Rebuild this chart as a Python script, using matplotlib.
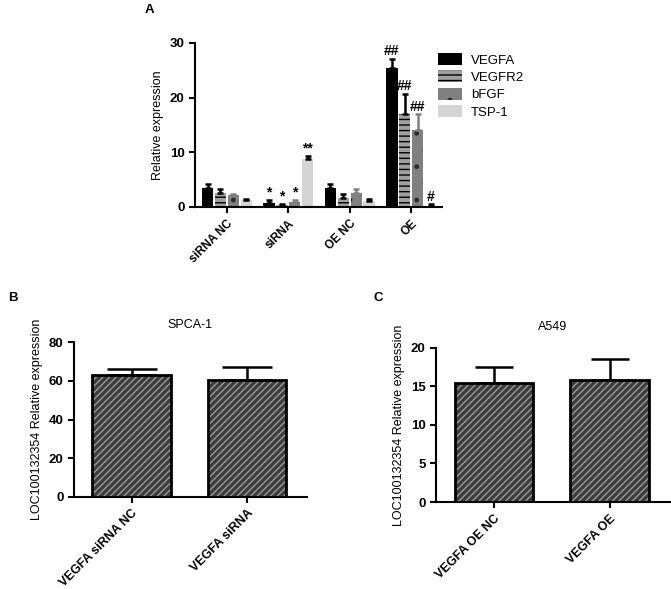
import numpy as np
import matplotlib
matplotlib.use("Agg")
import matplotlib.pyplot as plt
from matplotlib.patches import Patch

plt.rcParams['font.family'] = ['Liberation Sans', 'DejaVu Sans']
plt.rcParams['hatch.linewidth'] = 1.0

# Panel A data
groups = ['siRNA NC', 'siRNA', 'OE NC', 'OE']
genes = ['VEGFA', 'VEGFR2', 'bFGF', 'TSP-1']
vegfa = [3.5, 0.8, 3.5, 25.5]
vegfa_err = [0.7, 0.4, 0.7, 1.6]
vegfr2 = [2.6, 0.4, 1.6, 17.1]
vegfr2_err = [0.6, 0.2, 0.8, 3.6]
bfgf = [2.1, 1.0, 2.6, 14.1]
bfgf_err = [0.2, 0.3, 0.6, 2.9]
tsp1 = [1.2, 8.7, 1.1, 0.2]
tsp1_err = [0.3, 0.7, 0.3, 0.3]
marks_vegfa = ['', '*', '', '##']
marks_vegfr2 = ['', '*', '', '##']
marks_bfgf = ['', '*', '', '##']
marks_tsp1 = ['', '**', '', '#']

# Panel B data
b_labels = ['VEGFA siRNA NC', 'VEGFA siRNA']
b_vals = [63, 60.5]
b_err = [3, 6.5]

# Panel C data
c_labels = ['VEGFA OE NC', 'VEGFA OE']
c_vals = [15.5, 15.8]
c_err = [2.0, 2.8]

fig = plt.figure(figsize=(6.71, 5.89), dpi=100)


def style_axes(ax, size):
    ax.spines['top'].set_visible(False)
    ax.spines['right'].set_visible(False)
    ax.spines['left'].set_linewidth(1.5)
    ax.spines['bottom'].set_linewidth(1.5)
    ax.tick_params(width=1.5, length=4)
    ax.tick_params(axis='y', labelsize=size)
    for lab in ax.get_yticklabels():
        lab.set_fontweight('bold')


# ---- Panel A ----
axA = fig.add_axes([0.2906, 0.6486, 0.368, 0.2784])
x = np.arange(len(groups))
w = 0.2
series = [
    (vegfa, vegfa_err, marks_vegfa, '#000000', '', '#000000', 'black'),
    (vegfr2, vegfr2_err, marks_vegfr2, '#a0a0a0', '---', '#000000', 'black'),
    (bfgf, bfgf_err, marks_bfgf, '#808080', '.', '#2a2a2a', '#808080'),
    (tsp1, tsp1_err, marks_tsp1, '#d4d4d4', '', '#d4d4d4', 'black'),
]
handles = []
for i, (vals, err, marks, fc, hatch, hc, ec) in enumerate(series):
    pos = x + (i - 1.5) * w * 1.05
    axA.bar(pos, vals, width=w * 0.92, color=fc, hatch=hatch,
            edgecolor=hc, linewidth=0, zorder=2)
    axA.errorbar(pos, vals, yerr=[np.zeros(len(vals)), err], fmt='none',
                 ecolor=ec, elinewidth=1.8, capsize=2.5, capthick=1.8, zorder=3)
    for p, v, e, m in zip(pos, vals, err, marks):
        if m:
            axA.text(p, v + e + 0.1, m, ha='center', va='bottom',
                     fontsize=10, fontweight='bold')
    handles.append(Patch(facecolor=fc, hatch=hatch, edgecolor=hc,
                         linewidth=0, label=genes[i]))

axA.set_xlim(-0.52, 3.5)
axA.set_ylim(0, 30)
axA.set_yticks([0, 10, 20, 30])
axA.set_xticks(x)
axA.set_xticklabels(groups, rotation=45, ha='right', rotation_mode='anchor',
                    fontweight='bold', fontsize=8.5)
axA.set_ylabel('Relative expression', fontsize=9)
style_axes(axA, 9.5)
fig.legend(handles=handles, loc='upper left', bbox_to_anchor=(0.635, 0.93),
           frameon=False, fontsize=9.5, handlelength=1.8, handleheight=1.0,
           labelspacing=0.3, handletextpad=0.7)


def hatched_panel(rect, labels, vals, err, ymax, yticks, title, cap, tpad):
    ax = fig.add_axes(rect)
    xp = np.arange(len(labels))
    ax.bar(xp, vals, width=0.68, color='#3c3c3c', hatch='/////',
           edgecolor='#9a9a9a', linewidth=0, zorder=2)
    ax.bar(xp, vals, width=0.68, fill=False, edgecolor='black',
           linewidth=2.0, zorder=3)
    ax.errorbar(xp, vals, yerr=[np.zeros(len(vals)), err], fmt='none',
                ecolor='black', elinewidth=1.8, capsize=cap, capthick=1.8,
                zorder=1)
    ax.set_xlim(-0.5, 1.52)
    ax.set_ylim(0, ymax)
    ax.set_yticks(yticks)
    ax.set_xticks(xp)
    ax.set_xticklabels(labels, rotation=45, ha='right', rotation_mode='anchor',
                       fontweight='bold', fontsize=9)
    ax.set_ylabel('LOC100132354 Relative expression', fontsize=9)
    ax.set_title(title, fontsize=9, pad=tpad)
    style_axes(ax, 9.5)
    return ax


hatched_panel([0.1103, 0.1562, 0.347, 0.263], b_labels, b_vals, b_err,
              80, [0, 20, 40, 60, 80], 'SPCA-1', 18, 10)
hatched_panel([0.6498, 0.1477, 0.3487, 0.2615], c_labels, c_vals, c_err,
              20, [0, 5, 10, 15, 20], 'A549', 14, 13)

fig.text(145 / 671, 1 - 10 / 589, 'A', fontsize=9.5, fontweight='bold',
         ha='left', va='center')
fig.text(8 / 671, 1 - 298 / 589, 'B', fontsize=9.5, fontweight='bold',
         ha='left', va='center')
fig.text(373 / 671, 1 - 298 / 589, 'C', fontsize=9.5, fontweight='bold',
         ha='left', va='center')

fig.savefig('out.png', dpi=100)
